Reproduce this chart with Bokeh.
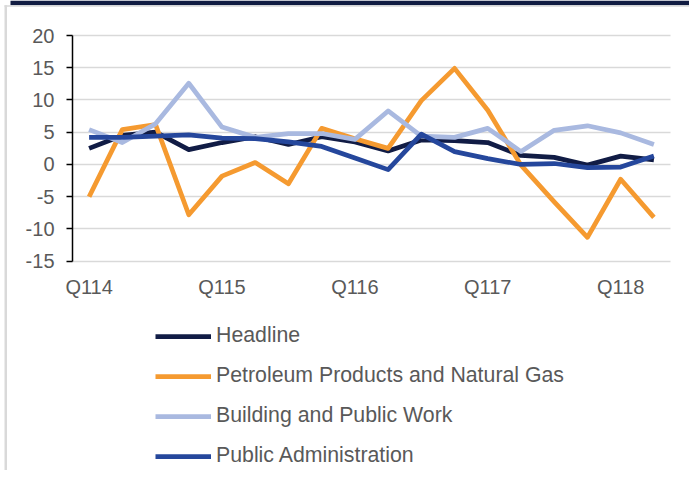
from bokeh.plotting import figure
from bokeh.models import Range1d, FixedTicker, Legend, LegendItem, BoxAnnotation
from bokeh.embed import file_html
from bokeh.resources import INLINE

quarters = ["Q114", "Q214", "Q314", "Q414", "Q115", "Q215", "Q315", "Q415",
            "Q116", "Q216", "Q316", "Q416", "Q117", "Q217", "Q317", "Q417",
            "Q118", "Q218"]
shown_labels = ["Q114", "Q115", "Q116", "Q117", "Q118"]

headline = [2.5, 4.5, 5.0, 2.3, 3.4, 4.3, 3.1, 4.3, 3.5, 2.1, 3.8, 3.7, 3.4, 1.4, 1.1, -0.1, 1.3, 0.7]
petroleum = [-5.0, 5.4, 6.2, -7.8, -1.8, 0.3, -3.0, 5.6, 4.0, 2.5, 9.9, 14.9, 8.4, -0.1, -5.8, -11.3, -2.3, -8.2]
building = [5.4, 3.4, 6.3, 12.6, 5.8, 4.2, 4.8, 4.8, 3.9, 8.3, 4.4, 4.2, 5.6, 2.0, 5.3, 6.0, 4.9, 3.1]
public_admin = [4.2, 4.2, 4.4, 4.6, 4.1, 4.0, 3.5, 2.8, 1.0, -0.8, 4.7, 2.0, 0.9, 0.0, 0.15, -0.5, -0.4, 1.3]

series_names = ["Headline", "Petroleum Products and Natural Gas",
                "Building and Public Work", "Public Administration"]
series_values = [headline, petroleum, building, public_admin]
series_colors = ["#111c45", "#f59a30", "#a9b9e0", "#25479c"]

y_ticks = [-15, -10, -5, 0, 5, 10, 15, 20]

FONT = "Liberation Sans"
TXT = "#595959"

# layout (pixels): the frame fills the figure, the axes sit inside it
W, H = 689, 470
PLOT_L, PLOT_R = 72.0, 670.0      # x pixels of the plotting area
PLOT_T, PLOT_B = 35.0, 260.7      # y pixels of the top / bottom gridline
n = len(quarters)
x_lo, x_hi = -0.5, n - 0.5
y_min, y_max = min(y_ticks), max(y_ticks)
px_x = (PLOT_R - PLOT_L) / (x_hi - x_lo)
px_y = (PLOT_B - PLOT_T) / (y_max - y_min)
x_range = Range1d(x_lo - PLOT_L / px_x, x_hi + (W - PLOT_R) / px_x)
y_range = Range1d(y_min - (H - PLOT_B) / px_y, y_max + PLOT_T / px_y)

xpos = list(range(n))
tick_pos = [i for i, q in enumerate(quarters) if q in shown_labels]

p = figure(width=W, height=H, x_range=x_range, y_range=y_range,
           output_backend="svg", toolbar_location=None,
           min_border_left=0, min_border_right=0, min_border_top=0,
           min_border_bottom=0)
p.outline_line_color = None
p.background_fill_color = "white"
p.border_fill_color = "white"

# page decoration: dark band on top, thin grey frame lines
p.add_layout(BoxAnnotation(left=10, right=W, top=0, bottom=4.7,
                           left_units="canvas", right_units="canvas",
                           top_units="canvas", bottom_units="canvas",
                           fill_color="#111c42", fill_alpha=1, line_color=None))
p.add_layout(BoxAnnotation(left=4, right=W, top=4.7, bottom=6.2,
                           left_units="canvas", right_units="canvas",
                           top_units="canvas", bottom_units="canvas",
                           fill_color="#d9d9d9", fill_alpha=1, line_color=None))
p.add_layout(BoxAnnotation(left=4, right=6.5, top=4.7, bottom=H,
                           left_units="canvas", right_units="canvas",
                           top_units="canvas", bottom_units="canvas",
                           fill_color="#d9d9d9", fill_alpha=1, line_color=None))

renderers = []
for name, vals, col in zip(series_names, series_values, series_colors):
    r = p.line(xpos, vals, line_color=col, line_width=4.75, line_join="round")
    renderers.append(r)

# y axis
p.yaxis.fixed_location = x_lo
p.yaxis.ticker = FixedTicker(ticks=y_ticks)
p.yaxis.bounds = (y_min, y_max)
p.yaxis.major_label_overrides = {t: str(t) for t in y_ticks}
p.yaxis.axis_line_color = "black"
p.yaxis.axis_line_width = 1.5
p.yaxis.major_tick_line_color = "black"
p.yaxis.major_tick_line_width = 1.5
p.yaxis.major_tick_out = 6
p.yaxis.major_tick_in = 0
p.yaxis.minor_tick_line_color = None
p.yaxis.major_label_standoff = 12
p.yaxis.major_label_text_font = FONT
p.yaxis.major_label_text_font_size = "20px"
p.yaxis.major_label_text_color = TXT

# x axis, sitting on the lowest gridline
p.xaxis.fixed_location = y_min
p.xaxis.ticker = FixedTicker(ticks=tick_pos)
p.xaxis.bounds = (x_lo, x_hi)
p.xaxis.axis_line_color = None
p.xaxis.major_tick_line_color = None
p.xaxis.minor_tick_line_color = None
p.xaxis.major_label_overrides = {i: quarters[i] for i in tick_pos}
p.xaxis.major_label_standoff = 9
p.xaxis.major_label_text_font = FONT
p.xaxis.major_label_text_font_size = "20px"
p.xaxis.major_label_text_color = TXT

p.xgrid.grid_line_color = None
p.ygrid.grid_line_color = "#d9d9d9"
p.ygrid.grid_line_width = 1.5
p.ygrid.bounds = (y_min, y_max)
p.ygrid.cross_bounds = (x_lo, x_hi)

legend = Legend(items=[LegendItem(label=nm, renderers=[r]) for nm, r in zip(series_names, renderers)],
                location=(155, 2), orientation="vertical",
                glyph_width=56, glyph_height=24, label_height=24, label_standoff=5,
                spacing=15, padding=0, margin=0,
                border_line_color=None, background_fill_alpha=0,
                label_text_font=FONT, label_text_font_size="21.3px",
                label_text_color=TXT)
p.add_layout(legend, "center")

open("out.html", "w").write(file_html(p, INLINE))
